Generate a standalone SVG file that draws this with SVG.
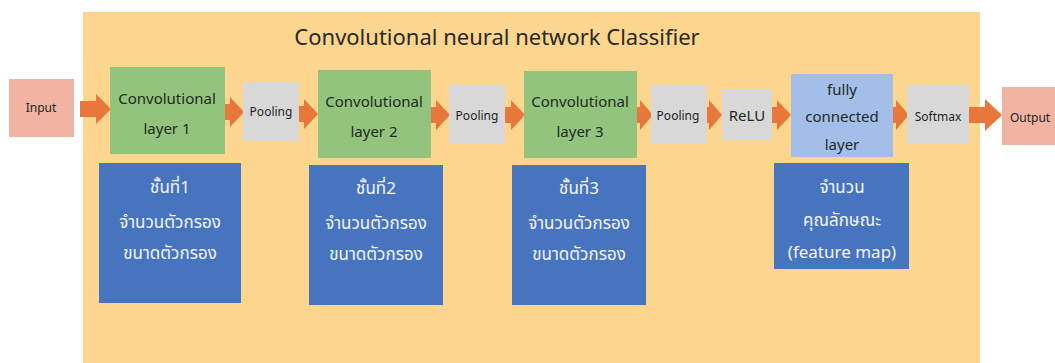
<svg xmlns="http://www.w3.org/2000/svg" width="1055" height="363" viewBox="0 0 1055 363">
<defs>
<style>
.t{font-family:"Noto Sans","Noto Sans Thai","DejaVu Sans",sans-serif;text-anchor:middle}
.io{fill:#F2B4A2}
.conv{fill:#93C47D}
.gray{fill:#D8D8D8}
.fc{fill:#A3BEE8}
.blue{fill:#4674BE}
.dk{fill:#1e2a1e;font-size:15px}
.sm{fill:#1e1e1e;font-size:12px}
.wt{fill:#F4F4F8;font-size:17px}
.arr{fill:#E8773A}
</style>
</defs>
<rect width="1055" height="363" fill="#ffffff"/>
<g id="classifier">
<rect x="83" y="12" width="897" height="351" fill="#FCD68E"/>
<text class="t" x="497" y="45" font-size="22" fill="#2a2a2a">Convolutional neural network Classifier</text>
</g>
<g id="connectors">
<polygon class="arr" points="80,101 96,101 96,94 111,109 96,124 96,117 80,117"/>
<polygon class="arr" points="225,104 230,104 230,97 244,112 230,127 230,120 225,120"/>
<polygon class="arr" points="299,106 304,106 304,99 318,114 304,129 304,122 299,122"/>
<polygon class="arr" points="431,107 436,107 436,100 450,115 436,130 436,123 431,123"/>
<polygon class="arr" points="505,107 511,107 511,100 525,115 511,130 511,123 505,123"/>
<polygon class="arr" points="637,107 640,107 640,100 653,115 640,130 640,123 637,123"/>
<polygon class="arr" points="707,107 709,107 709,100 722,115 709,130 709,123 707,123"/>
<polygon class="arr" points="772,107 777,107 777,100 791,115 777,130 777,123 772,123"/>
<polygon class="arr" points="893,107 896,107 896,100 909,115 896,130 896,123 893,123"/>
<polygon class="arr" points="969,107 985,107 985,99 1002,115 985,131 985,123 969,123"/>
</g>
<g id="input"><rect class="io" x="9" y="79" width="65" height="58"/><text class="t sm" x="41" y="112">Input</text></g>
<g id="conv1"><rect class="conv" x="110" y="67" width="115" height="87"/><text class="t dk" x="167" y="104">Convolutional</text><text class="t dk" x="167" y="134">layer 1</text></g>
<g id="pool1"><rect class="gray" x="243" y="82" width="56" height="59"/><text class="t sm" x="271" y="116">Pooling</text></g>
<g id="conv2"><rect class="conv" x="318" y="70" width="113" height="88"/><text class="t dk" x="374" y="107">Convolutional</text><text class="t dk" x="374" y="137">layer 2</text></g>
<g id="pool2"><rect class="gray" x="449" y="85" width="56" height="59"/><text class="t sm" x="477" y="120">Pooling</text></g>
<g id="conv3"><rect class="conv" x="524" y="71" width="113" height="87"/><text class="t dk" x="580" y="107">Convolutional</text><text class="t dk" x="580" y="137">layer 3</text></g>
<g id="pool3"><rect class="gray" x="651" y="85" width="56" height="59"/><text class="t sm" x="678" y="120">Pooling</text></g>
<g id="relu"><rect class="gray" x="722" y="89" width="50" height="51"/><text class="t dk" x="747" y="121">ReLU</text></g>
<g id="fc"><rect class="fc" x="791" y="74" width="102" height="83"/><text class="t dk" x="842" y="95">fully</text><text class="t dk" x="842" y="122">connected</text><text class="t dk" x="842" y="150">layer</text></g>
<g id="softmax"><rect class="gray" x="907" y="85" width="62" height="59"/><text class="t sm" x="938" y="121" font-size="11">Softmax</text></g>
<g id="output"><rect class="io" x="1002" y="87" width="53" height="58"/><text class="t sm" x="1030" y="122">Output</text></g>
<g id="desc1"><rect class="blue" x="99" y="163" width="142" height="140"/><text class="t wt" x="170" y="193">ชั้นที่1</text><text class="t wt" x="170" y="228">จำนวนตัวกรอง</text><text class="t wt" x="170" y="259">ขนาดตัวกรอง</text></g>
<g id="desc2"><rect class="blue" x="309" y="165" width="134" height="140"/><text class="t wt" x="376" y="194">ชั้นที่2</text><text class="t wt" x="376" y="229">จำนวนตัวกรอง</text><text class="t wt" x="376" y="260">ขนาดตัวกรอง</text></g>
<g id="desc3"><rect class="blue" x="512" y="165" width="134" height="140"/><text class="t wt" x="579" y="194">ชั้นที่3</text><text class="t wt" x="579" y="229">จำนวนตัวกรอง</text><text class="t wt" x="579" y="260">ขนาดตัวกรอง</text></g>
<g id="desc4"><rect class="blue" x="774" y="163" width="135" height="106"/><text class="t wt" x="842" y="193">จำนวน</text><text class="t wt" x="842" y="226">คุณลักษณะ</text><text class="t wt" x="842" y="258">(feature map)</text></g>
</svg>
